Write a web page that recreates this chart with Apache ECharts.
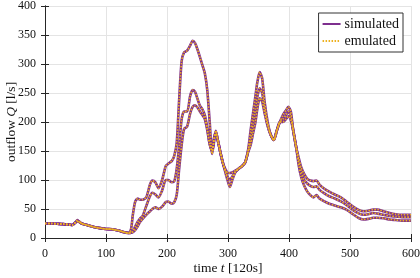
<!DOCTYPE html>
<html><head><meta charset="utf-8">
<script src="https://cdn.jsdelivr.net/npm/echarts@6/dist/echarts.min.js"></script>
<style>html,body{margin:0;padding:0;background:#fff}#c{width:420px;height:278px}</style>
</head><body><div id="c"></div>
<script>
const timeSteps = [0,10,20,30,40,45,50,53,56,60,70,80,90,100,110,120,130,137,141,144,148,152,156,160,166,172,176,181,186,192,198,202,208,212,216,220,224,228,233,238,242,246,250,254,258,262,266,270,274,277,280,284,288,292,296,300,303,307,312,318,322,328,333,337,341,345,348,352,356,360,365,370,375,380,385,390,395,399,403,407,412,416,420,425,430,435,440,445,450,458,466,475,485,494,505,515,522,530,538,545,555,565,575,585,600];
const flowA = [25,25,24.5,24,23,22.5,27,31,28,25,22,19,17,15.5,15,13,10,8.5,15,40,63,68,66,66,70,92,99,96,86,100,124,128,133,142,165,240,305,320,323,332,340,336,325,312,298,284,255,200,145,165,185,165,145,128,112,97,88,100,113,120,123,130,152,185,215,245,268,286,275,235,200,178,169,185,200,212,220,226,218,185,155,138,122,110,102,99,98,99,92,85,80,75,70,63,54,48,46,47,49,49,46,43,41,40,40];
const flowB = [25,25,24.5,24,23,22.5,27,29,28,25,22,19,17,15.5,15,13,10,8.5,9,12,20,28,34,38,55,72,78,75,70,82,100,100,96,98,120,160,205,218,218,245,255,252,240,228,222,212,190,162,150,172,183,165,145,128,115,104,100,106,114,120,123,130,150,170,195,222,243,258,250,222,195,178,169,185,200,205,212,218,210,185,155,132,115,100,94,90,88,89,83,77,72,68,63,57,48,42,40,41,43,42,40,38,37,36,36];
const flowC = [25,25,24.5,24,23,22.5,27,28,28,25,22,19,17,15.5,15,13,10,8.5,9,10,14,20,28,33,40,46,50,53,50,54,62,63,59,62,75,120,160,188,192,215,226,229,225,218,212,205,186,162,150,170,180,165,145,128,118,112,112,113,116,120,123,130,148,160,180,200,222,241,235,215,193,178,169,185,200,200,205,210,203,185,155,125,105,90,80,74,70,74,68,63,59,56,53,49,41,34,32,33,35,35,34,32,31,30,30];
// emulated outputs read as identical to the simulated ones
const emuA = flowA, emuB = flowB, emuC = flowC;
const xTicks = [0,100,200,300,400,500,600];
const yTicks = [0,50,100,150,200,250,300,350,400];

const PURPLE = '#7E2F8E', ORANGE = '#EDB120';
const FONT = 'Liberation Serif';
const pairs = (ys) => timeSteps.map((t,i)=>[t, ys[i]]);
function sim(ys){return {name:'simulated',type:'line',data:pairs(ys),showSymbol:false,symbol:'none',smooth:0.25,lineStyle:{color:PURPLE,width:2.6},itemStyle:{color:PURPLE},z:2,animation:false};}
function emu(ys){return {name:'emulated',type:'line',data:pairs(ys),showSymbol:false,symbol:'none',smooth:0.25,lineStyle:{color:ORANGE,width:1.6,type:[1.5,1.5]},itemStyle:{color:ORANGE},z:3,animation:false};}

const axisLine = {show:true,lineStyle:{color:'#262626',width:1}};
const chart = echarts.init(document.getElementById('c'),null,{renderer:'canvas'});
chart.setOption({
  animation:false,
  textStyle:{fontFamily:FONT},
  grid:{left:45,right:9,top:6,bottom:40,containLabel:false,outerBoundsMode:'none'},
  legend:{
    right:17, top:13, orient:'vertical', itemGap:3, itemWidth:18, itemHeight:12,
    backgroundColor:'#fff', borderColor:'#333', borderWidth:1, borderRadius:0, padding:[4,4,4,3],
    itemStyle:{opacity:0},
    textStyle:{fontFamily:FONT,fontSize:14,color:'#111',padding:[0,0,0,-1]},
    data:['simulated','emulated']
  },
  xAxis:[{
    type:'value',min:0,max:600,interval:100,
    axisLine:axisLine,axisTick:{show:true,inside:true,length:4,lineStyle:{color:'#262626'}},
    axisLabel:{fontFamily:FONT,fontSize:12,color:'#111',margin:10,formatter:v=>xTicks.includes(v)?String(v):''},
    splitLine:{show:true,lineStyle:{color:'#e4e4e4',width:1}},
    name:'{n|time }{i|t}{n| [120s]}',nameLocation:'middle',nameGap:23,nameMoveOverlap:false,
    nameTextStyle:{rich:{n:{fontFamily:FONT,fontSize:13.5,color:'#111'},i:{fontFamily:FONT,fontStyle:'italic',fontSize:13.5,color:'#111'}}}
  },{
    type:'value',position:'top',min:0,max:600,interval:100,
    axisLine:axisLine,axisTick:{show:true,inside:true,length:4,lineStyle:{color:'#262626'}},
    axisLabel:{show:false},splitLine:{show:false}
  }],
  yAxis:[{
    type:'value',min:0,max:400,interval:50,
    axisLine:axisLine,axisTick:{show:true,inside:true,length:4,lineStyle:{color:'#262626'}},
    axisLabel:{fontFamily:FONT,fontSize:12,color:'#111',margin:9,formatter:v=>yTicks.includes(v)?String(v):''},
    splitLine:{show:true,lineStyle:{color:'#e4e4e4',width:1}},
    name:'{n|outflow }{i|Q}{n| [l/s]}',nameLocation:'middle',nameGap:27,nameRotate:90,nameMoveOverlap:false,
    nameTextStyle:{rich:{n:{fontFamily:FONT,fontSize:13.5,color:'#111'},i:{fontFamily:FONT,fontStyle:'italic',fontSize:13.5,color:'#111'}}}
  },{
    type:'value',position:'right',min:0,max:400,interval:50,
    axisLine:axisLine,axisTick:{show:true,inside:true,length:4,lineStyle:{color:'#262626'}},
    axisLabel:{show:false},splitLine:{show:false}
  }],
  series:[sim(flowA),sim(flowB),sim(flowC),emu(emuA),emu(emuB),emu(emuC)]
});
</script></body></html>
